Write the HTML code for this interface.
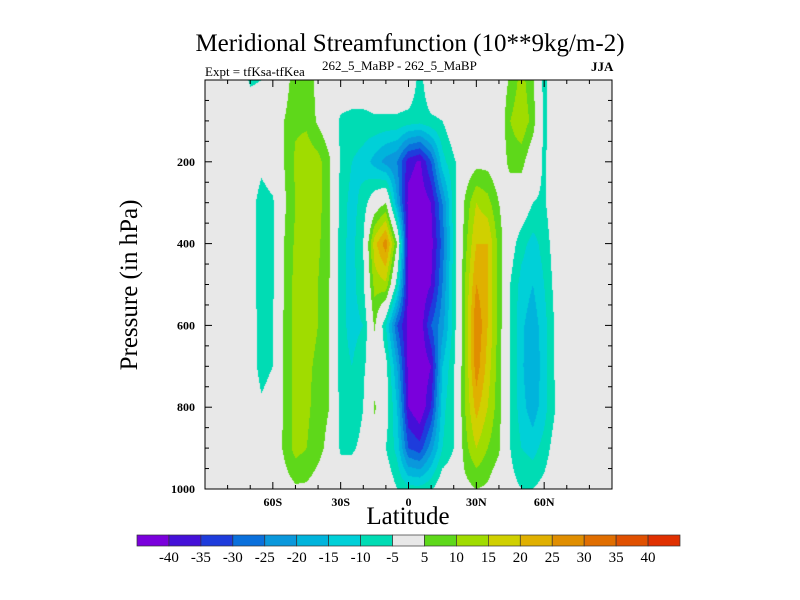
<!DOCTYPE html>
<html><head><meta charset="utf-8"><style>
body{margin:0;background:#fff;}
#wrap{position:relative;width:800px;height:600px;overflow:hidden;font-family:"Liberation Serif",serif;color:#000;}
.t{position:absolute;white-space:nowrap;}
canvas{position:absolute;}
</style></head><body>
<div id="wrap">
<div class="t" style="left:0;width:820px;text-align:center;top:30px;font-size:25px;">Meridional Streamfunction (10**9kg/m-2)</div>
<div class="t" style="left:205px;top:64px;font-size:13px;">Expt = tfKsa-tfKea</div>
<div class="t" style="left:322px;top:58px;font-size:13px;">262_5_MaBP - 262_5_MaBP</div>
<div class="t" style="left:591px;top:59px;font-size:13px;font-weight:bold;">JJA</div>
<canvas id="plot" width="407" height="409" style="left:205px;top:80px;"></canvas>
<svg id="axes" width="800" height="600" style="position:absolute;left:0;top:0"></svg>
<div class="t" style="left:130px;top:285px;font-size:25px;transform:translate(-50%,-50%) rotate(-90deg);">Pressure (in hPa)</div>
<div class="t" style="left:0;width:816px;text-align:center;top:503px;font-size:25px;">Latitude</div>
</div>
<script>
const lats=[-90,-85,-80,-75,-70,-65,-60,-55,-50,-45,-40,-35,-30,-25,-20,-15,-10,-5,0,5,10,15,20,25,30,35,40,45,50,55,60,65,70,75,80,85,90];
const levels=[0,100,200,300,400,500,600,700,800,900,1000];
const row0  =[0,0,0,0,-6,-5,0,2,8,8,3,0,0,0,0,0,0,0,0,-7,0,0,0,0,0,0,0,6,12,6,-7,0,0,0,0,0,0];
const row100=[0,0,0,0,0,0,0,5,9,9,4,0,-6,-7,-7,-6,-6,-6,-7,-8,-6,-5,0,0,0,0,0,10,14,8,-7,0,0,0,0,0,0];
const row200=[0,0,0,0,0,-3,0,5,11,13,12,6,-6,-10,-12,-17,-22,-25,-38,-41,-30,-12,-6,0,3,3,0,7,7,0,-6,0,0,0,0,0,0];
const row300=[0,0,0,0,-2,-8,-6,4,10,13,12,6,-7,-12,-8,0,5,-20,-42,-44,-40,-25,-8,6,15,12,5,0,0,-5,-6,0,0,0,0,0,0];
const row400=[0,0,0,0,-2,-8,-6,5,11,13,11,6,-8,-12,-5,18,28,5,-43,-45,-42,-28,-8,8,20,20,8,-2,-8,-12,-8,-2,0,0,0,0,0];
const row500=[0,0,0,0,-2,-8,-6,5,12,13,10,5,-8,-12,-6,12,14,-8,-42,-45,-40,-25,-8,10,25,20,8,-5,-12,-15,-10,-3,0,0,0,0,0];
const row600=[0,0,0,0,-2,-7,-5,6,12,12,10,5,-8,-12,-10,6,-10,-30,-42,-44,-30,-22,-8,10,30,20,8,-5,-14,-18,-12,-4,0,0,0,0,0];
const row700=[0,0,0,0,-2,-7,-5,6,12,11,9,5,-8,-10,-6,0,-3,-20,-42,-45,-40,-15,-6,10,28,18,7,-5,-14,-20,-12,-4,0,0,0,0,0];
const row800=[0,0,0,0,-1,-4,-2,6,12,11,8,5,-7,-10,-5,6,-2,-15,-40,-45,-35,-12,-5,10,22,15,7,-5,-13,-18,-12,-5,0,0,0,0,0];
const row900=[0,0,0,0,0,0,0,6,12,10,7,3,-6,-6,-3,0,-5,-12,-30,-33,-22,-10,-5,8,15,10,6,-5,-10,-12,-8,-2,0,0,0,0,0];
const row1000=[0,0,0,0,0,0,0,2,4,4,2,0,0,0,0,0,0,-5,-8,-8,-6,0,0,3,5,4,0,-3,-5,-5,-3,0,0,0,0,0,0];
const field=[row0,row100,row200,row300,row400,row500,row600,row700,row800,row900,row1000];
const cbLabels=["-40","-35","-30","-25","-20","-15","-10","-5","5","10","15","20","25","30","35","40"];
const bounds=[-40,-35,-30,-25,-20,-15,-10,-5,5,10,15,20,25,30,35,40];
const colors=["#7a00dc","#4410d8","#1e3cdc","#0a70dc","#0a98dc","#00b4dc","#00d0d8","#00dcb4","#e8e8e8","#5ed81a","#a0dc00","#d0d000","#e0b000","#e08e00","#e06e00","#e05000","#e03000"];
const xTicks=[-60,-30,0,30,60];
const xTickLabels=["60S","30S","0","30N","60N"];
const yTicks=[200,400,600,800,1000];

const PX0=205,PX1=612,PY0=80,PY1=489;
const xs=lat=>PX0+(lat+90)/180*(PX1-PX0);
const ys=p=>PY0+p/1000*(PY1-PY0);
function val(lat,p){
  let fi=(lat-lats[0])/(lats[1]-lats[0]);fi=Math.max(0,Math.min(lats.length-1.0001,fi));
  let fj=(p-levels[0])/(levels[1]-levels[0]);fj=Math.max(0,Math.min(levels.length-1.0001,fj));
  const i=Math.floor(fi),j=Math.floor(fj),a=fi-i,b=fj-j;
  return (field[j][i]*(1-a)+field[j][i+1]*a)*(1-b)+(field[j+1][i]*(1-a)+field[j+1][i+1]*a)*b;
}
const cv=document.getElementById('plot'),ctx=cv.getContext('2d');
const W=cv.width,H=cv.height,img=ctx.createImageData(W,H);
const rgb=colors.map(c=>[parseInt(c.substr(1,2),16),parseInt(c.substr(3,2),16),parseInt(c.substr(5,2),16)]);
for(let y=0;y<H;y++)for(let x=0;x<W;x++){
  const lat=-90+(x+0.5)/W*180,p=(y+0.5)/H*1000;
  const v=val(lat,p);let k=0;while(k<bounds.length&&v>=bounds[k])k++;
  const o=(y*W+x)*4;img.data[o]=rgb[k][0];img.data[o+1]=rgb[k][1];img.data[o+2]=rgb[k][2];img.data[o+3]=255;
}
ctx.putImageData(img,0,0);

const svg=document.getElementById('axes');const NS="http://www.w3.org/2000/svg";
function mk(tag,attrs,parent){const e=document.createElementNS(NS,tag);for(const k in attrs)e.setAttribute(k,attrs[k]);(parent||svg).appendChild(e);return e;}
const frame=mk('rect',{x:PX0,y:PY0,width:PX1-PX0,height:PY1-PY0,fill:'none',stroke:'#000','stroke-width':1});


for(let lat=-80;lat<=80;lat+=10){
  const major=xTicks.includes(lat),L=major?7:4,x=xs(lat);
  const t1=mk('line',{x1:x,x2:x,y1:PY1,y2:PY1-L,stroke:'#000'});
  
  
  const t2=mk('line',{x1:x,x2:x,y1:PY0,y2:PY0+L,stroke:'#000'});
  
  
}
xTicks.forEach((lat,i)=>{
  const t=mk('text',{x:xs(lat),y:PY1+17,'text-anchor':'middle','font-size':12,'font-weight':'bold','font-family':'Liberation Serif, serif'});
  t.textContent=xTickLabels[i];
  
  
});
for(let p=50;p<1000;p+=50){
  const major=yTicks.includes(p),L=major?7:4,y=ys(p);
  const t1=mk('line',{x1:PX0,x2:PX0+L,y1:y,y2:y,stroke:'#000'});
  
  
  const t2=mk('line',{x1:PX1,x2:PX1-L,y1:y,y2:y,stroke:'#000'});
  
  
}
yTicks.forEach(p=>{
  const t=mk('text',{x:PX0-10,y:ys(p)+4,'text-anchor':'end','font-size':12,'font-weight':'bold','font-family':'Liberation Serif, serif'});
  t.textContent=String(p);
  
  
});
const CB0=137,CB1=680,CBY=535,CBH=11,bw=(CB1-CB0)/colors.length;
colors.forEach((c,i)=>{
  const r=mk('rect',{x:CB0+i*bw,y:CBY,width:bw,height:CBH,fill:c,stroke:'#333','stroke-width':0.7});
  
  
});
cbLabels.forEach((s,i)=>{
  const t=mk('text',{x:CB0+(i+1)*bw,y:CBY+27,'text-anchor':'middle','font-size':15,'font-family':'Liberation Serif, serif'});
  t.textContent=s;
  
  
});
</script>
</body></html>
